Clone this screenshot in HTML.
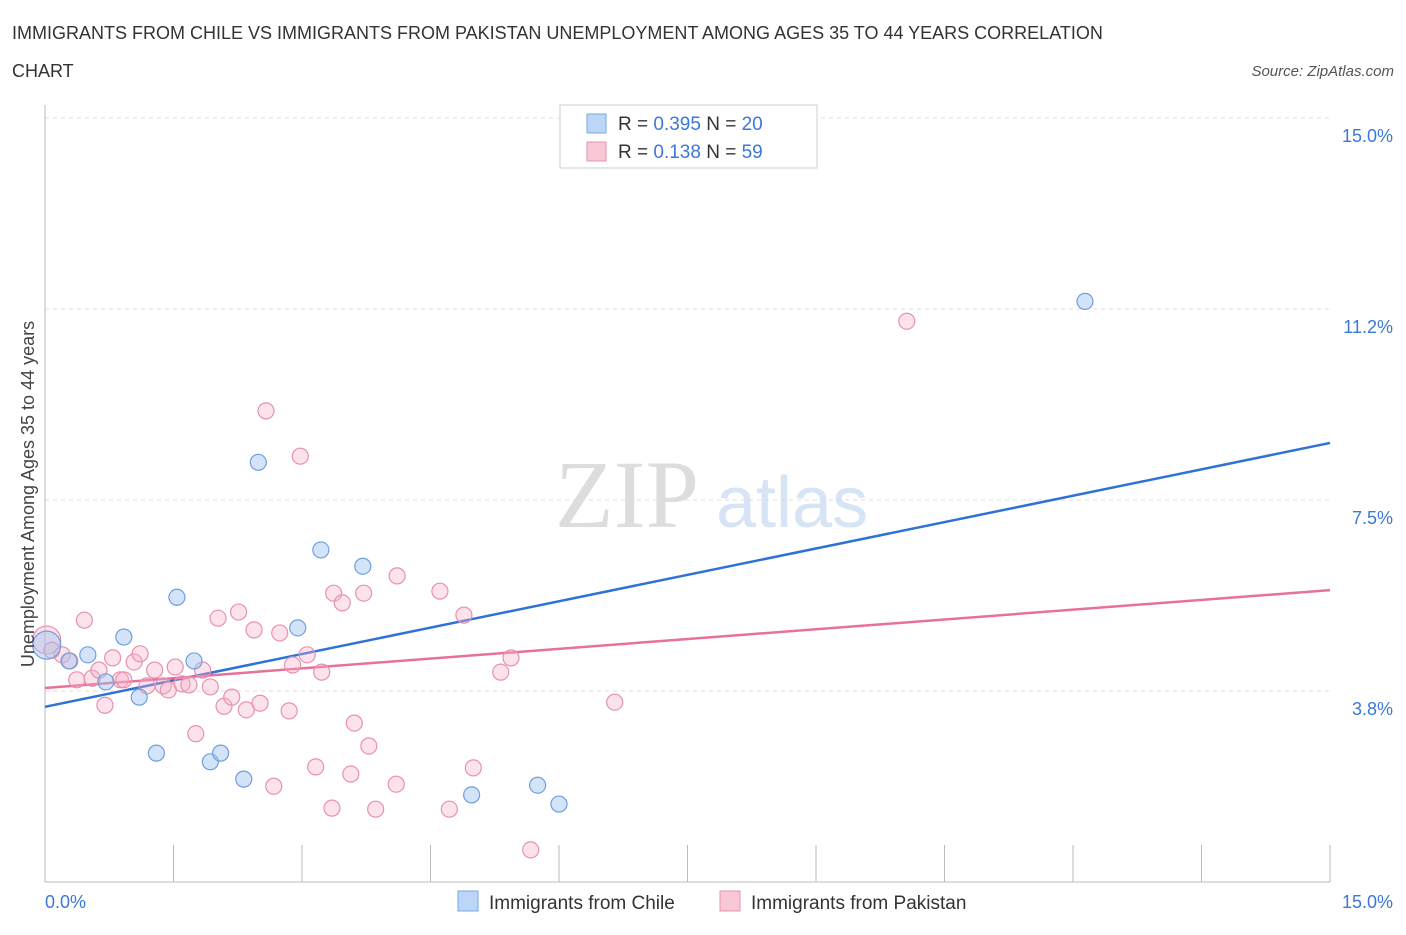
<!DOCTYPE html>
<html><head><meta charset="utf-8"><style>
body{margin:0;background:#fff;font-family:"Liberation Sans",sans-serif;}
</style></head><body>
<svg width="1406" height="930" xmlns="http://www.w3.org/2000/svg" font-family="Liberation Sans, sans-serif">
<text x="12" y="39" font-size="18" fill="#333">IMMIGRANTS FROM CHILE VS IMMIGRANTS FROM PAKISTAN UNEMPLOYMENT AMONG AGES 35 TO 44 YEARS CORRELATION</text>
<text x="12" y="77" font-size="18" fill="#333">CHART</text>
<text x="1394" y="76" font-size="15" fill="#555" font-style="italic" text-anchor="end">Source: ZipAtlas.com</text>
<text x="555" y="527" font-size="96" fill="#ddd" font-family="Liberation Serif, serif">ZIP</text>
<text x="716" y="527" font-size="72" fill="#d6e4f5">atlas</text>
<g id="grid"></g><g id="axes"></g><g id="lines"></g><g id="pts"></g>
<text transform="translate(34,494) rotate(-90)" font-size="18" fill="#444" text-anchor="middle">Unemployment Among Ages 35 to 44 years</text>
<g>
<rect x="560" y="105" width="257" height="63" fill="#fff" stroke="#ccc"/>
<rect x="587" y="114" width="19" height="19" fill="#bcd6f7" stroke="#7aa8e0"/>
<rect x="587" y="142" width="19" height="19" fill="#f9c8d6" stroke="#e890b0"/>
<text x="618" y="130" font-size="19" fill="#333">R = <tspan fill="#3b78d8">0.395</tspan>   N = <tspan fill="#3b78d8">20</tspan></text>
<text x="618" y="158" font-size="19" fill="#333">R =  <tspan fill="#3b78d8">0.138</tspan>   N = <tspan fill="#3b78d8">59</tspan></text>
</g>
<g>
<rect x="458" y="891" width="20" height="20" fill="#bcd6f7" stroke="#7aa8e0"/>
<text x="489" y="909" font-size="19" fill="#333">Immigrants from Chile</text>
<rect x="720" y="891" width="20" height="20" fill="#f9c8d6" stroke="#e890b0"/>
<text x="751" y="909" font-size="19" fill="#333">Immigrants from Pakistan</text>
</g>
</svg>
<script>
const chileX=[0.02,0.28,0.50,0.71,0.92,1.10,1.30,1.54,1.74,1.93,2.05,2.32,2.49,2.95,3.22,3.71,4.98,5.75,6.00,12.14];
const chileY=[4.65,4.34,4.46,3.93,4.81,3.63,2.53,5.59,4.34,2.36,2.53,2.02,8.24,4.99,6.52,6.20,1.71,1.90,1.53,11.40];
const pakX=[0.02,0.08,0.20,0.29,0.46,0.37,0.55,0.63,0.70,0.79,0.88,0.92,1.04,1.11,1.19,1.28,1.38,1.44,1.52,1.60,1.68,1.76,1.84,1.93,2.02,2.09,2.18,2.26,2.35,2.44,2.51,2.58,2.67,2.74,2.85,2.89,2.98,3.06,3.16,3.23,3.35,3.37,3.47,3.57,3.61,3.72,3.78,3.86,4.11,4.10,4.61,4.72,4.89,5.00,5.32,5.44,5.67,6.65,10.06];
const pakY=[4.75,4.55,4.46,4.34,5.14,3.97,4.00,4.16,3.47,4.40,3.97,3.97,4.32,4.48,3.85,4.16,3.85,3.77,4.22,3.89,3.87,2.91,4.16,3.83,5.18,3.45,3.63,5.30,3.38,4.95,3.51,9.25,1.88,4.89,3.36,4.26,8.36,4.46,2.26,4.12,1.45,5.67,5.48,2.12,3.12,5.67,2.67,1.43,6.01,1.92,5.71,1.43,5.24,2.24,4.12,4.40,0.63,3.53,11.01];
const chileTrend=[3.44,8.62];
const pakTrend=[3.81,5.73];
const yTicks=[3.75,7.5,11.25,15];
const yTickLabels=["3.8%","7.5%","11.2%","15.0%"];
const xMax=15;
const NS="http://www.w3.org/2000/svg";
const X=v=>45+v*(1285/15);
const Y=v=>882-v*(191/3.75);
function mk(tag,attrs,parent){const e=document.createElementNS(NS,tag);for(const k in attrs)e.setAttribute(k,attrs[k]);document.getElementById(parent).appendChild(e);return e;}
yTicks.forEach((t,i)=>{
 const l=mk('line',{x1:45,x2:1330,y1:Y(t),y2:Y(t),stroke:'#ddd','stroke-dasharray':'4,4'},'grid');
 
 
 const tx=mk('text',{x:1393,y:Y(t)+24,'font-size':18,fill:'#3b78d8','text-anchor':'end'},'grid');
 tx.textContent=yTickLabels[i];
 
 
});
const ax=mk('line',{x1:45,x2:1330,y1:882,y2:882,stroke:'#bbb'},'axes');


const ay=mk('line',{x1:45,x2:45,y1:105,y2:882,stroke:'#bbb'},'axes');


for(let i=0;i<=10;i++){
 const t=mk('line',{x1:X(i*1.5),x2:X(i*1.5),y1:845,y2:882,stroke:'#bbb'},'axes');
 
 
}
[[0,"0.0%","start",45],[15,"15.0%","end",1393]].forEach(d=>{
 const t=mk('text',{x:d[3],y:908,'font-size':18,fill:'#3b78d8','text-anchor':d[2]},'axes');
 t.textContent=d[1];
 
 
});
function pts(xs,ys,fill,stroke,name){
 xs.forEach((x,i)=>{
  const r=i===0?14:8;
  const c=mk('circle',{cx:X(x),cy:Y(ys[i]),r:r,fill:fill,stroke:stroke,'stroke-width':1.2},'pts');
  
  
 });
}
pts(pakX,pakY,'rgba(245,175,198,0.35)','#e890b0','pakistan-point');
pts(chileX,chileY,'rgba(160,196,240,0.45)','#6f9fdc','chile-point');
const l1=mk('line',{x1:X(0),x2:X(xMax),y1:Y(chileTrend[0]),y2:Y(chileTrend[1]),stroke:'#2f72d6','stroke-width':2.5},'lines');


const l2=mk('line',{x1:X(0),x2:X(xMax),y1:Y(pakTrend[0]),y2:Y(pakTrend[1]),stroke:'#e8719c','stroke-width':2.5},'lines');


</script>
</body></html>
